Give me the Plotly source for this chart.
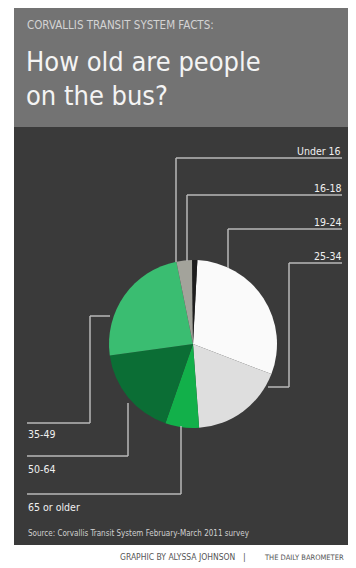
import plotly.graph_objects as go

# The page body has an 8px margin, so the figure is drawn 8px smaller and
# all layout positions below are given in window pixels and shifted.
OFF = 8
W, H = 356 - OFF, 568 - OFF

# Data (clockwise order, as drawn)
age_groups = ["19-24", "25-34", "65 or older", "50-64", "35-49", "16-18", "Under 16"]
shares = [30, 18, 6.5, 17.5, 24, 3, 1]
slice_colors = ["#fafafa", "#dedede", "#12b04a", "#0b6e35", "#3abd71", "#a3a39b", "#1e1e1e"]

title_kicker = "CORVALLIS TRANSIT SYSTEM FACTS:"
title_lines = ["How old are people", "on the bus?"]
right_labels = ["Under 16", "16-18", "19-24", "25-34"]
left_labels = ["35-49", "50-64", "65 or older"]
source_text = "Source: Corvallis Transit System February-March 2011 survey"
credit_main = "GRAPHIC BY ALYSSA JOHNSON"
credit_pub = "THE DAILY BAROMETER"

FONT = "DejaVu Sans Condensed, Liberation Sans Narrow, sans-serif"


def px(x):
    return (x - OFF) / W


def py(y):
    return 1 - (y - OFF) / H


cx, cy, r = 193, 344, 84

fig = go.Figure()
fig.add_trace(go.Pie(
    labels=age_groups,
    values=shares,
    sort=False,
    direction="clockwise",
    rotation=3,
    marker=dict(colors=slice_colors, line=dict(width=0)),
    textinfo="none",
    hoverinfo="label+percent",
    domain=dict(x=[px(cx - r), px(cx + r)], y=[py(cy + r), py(cy - r)]),
    showlegend=False,
))

shapes = []
shapes.append(dict(type="rect", xref="paper", yref="paper", layer="below",
                   x0=px(14), x1=px(352), y0=py(127), y1=1,
                   fillcolor="#737373", line=dict(width=0)))
shapes.append(dict(type="rect", xref="paper", yref="paper", layer="below",
                   x0=px(14), x1=px(352), y0=py(545), y1=py(127),
                   fillcolor="#3a3a3a", line=dict(width=0)))

line_style = dict(color="#b8b8b8", width=1.5)


def seg(x0, y0, x1, y1):
    shapes.append(dict(type="line", xref="paper", yref="paper", layer="above",
                       x0=px(x0), y0=py(y0), x1=px(x1), y1=py(y1), line=line_style))


# right-side label connectors
seg(176, 158, 342, 158); seg(176, 158, 176, 262)
seg(187, 195, 342, 195); seg(187, 195, 187, 261)
seg(228, 229, 342, 229); seg(228, 229, 228, 268)
seg(289, 263, 342, 263); seg(289, 263, 289, 387); seg(289, 387, 268, 387)
# left-side label connectors
seg(110, 316, 90, 316); seg(90, 316, 90, 423); seg(90, 423, 27, 423)
seg(128, 403, 128, 456); seg(128, 456, 27, 456)
seg(181, 426, 181, 494); seg(181, 494, 27, 494)

annotations = []


def text(x, y, s, size, color, anchor="left"):
    annotations.append(dict(x=px(x), y=py(y), xref="paper", yref="paper", text=s,
                            showarrow=False, xanchor=anchor, yanchor="middle",
                            align=anchor, font=dict(size=size, color=color, family=FONT)))


text(25, 25, title_kicker, 11.5, "#d4d4d4")
text(24, 62, title_lines[0], 27, "#f4f4f4")
text(24, 95, title_lines[1], 27, "#f4f4f4")

right_y = [151, 188, 222, 256]
for lab, yy in zip(right_labels, right_y):
    text(343, yy, lab, 10.5, "#f0f0f0", anchor="right")

left_y = [434, 469, 507]
for lab, yy in zip(left_labels, left_y):
    text(26, yy, lab, 10.5, "#f0f0f0")

text(26, 533, source_text, 8, "#d0d0d0")
text(237, 557, credit_main, 8.5, "#555555", anchor="right")
text(241, 557, "|", 9, "#555555")
text(346, 557, credit_pub, 7.5, "#555555", anchor="right")

fig.update_layout(
    width=W, height=H,
    margin=dict(l=0, r=0, t=0, b=0),
    paper_bgcolor="white",
    plot_bgcolor="white",
    shapes=shapes,
    annotations=annotations,
)

fig.write_html("out.html")
